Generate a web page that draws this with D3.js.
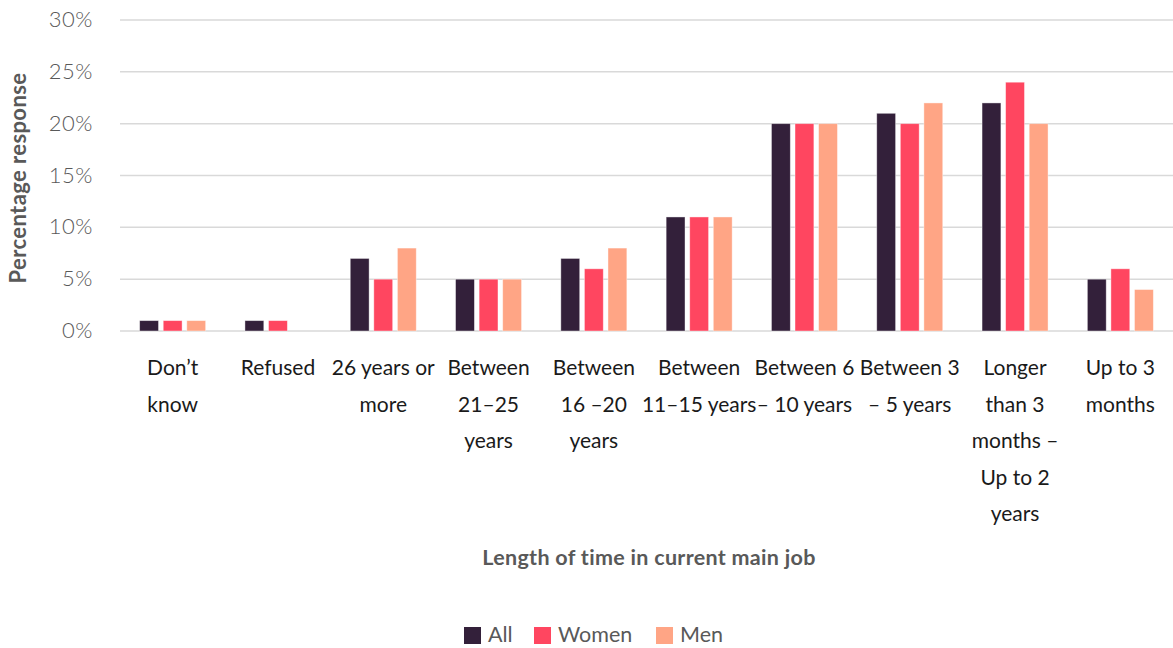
<!DOCTYPE html>
<html><head><meta charset="utf-8">
<script src="https://cdn.jsdelivr.net/npm/d3@7"></script>
<style>
html,body{margin:0;padding:0;background:#fff;}
svg{display:block;font-family:Lato, "Noto Sans", sans-serif;}
</style></head>
<body>
<svg id="chart" width="1173" height="648"></svg>
<script>
const categories = [
  ["Don\u2019t","know"],
  ["Refused"],
  ["26 years or","more"],
  ["Between","21\u201325","years"],
  ["Between","16 \u201320","years"],
  ["Between","11\u201315 years"],
  ["Between 6","\u2013 10 years"],
  ["Between 3","\u2013 5 years"],
  ["Longer","than 3","months \u2013","Up to 2","years"],
  ["Up to 3","months"]
];
const seriesNames = ["All","Women","Men"];
const allValues   = [1,1,7,5,7,11,20,21,22,5];
const womenValues = [1,1,5,5,6,11,20,20,24,6];
const menValues   = [1,0,8,5,8,11,20,22,20,4];
const yTicks = [0,5,10,15,20,25,30];
const colors = ["#33203a","#ff4660","#ffa585"];

const values = [allValues, womenValues, menValues];
const svg = d3.select("#chart");
const m = {left:120, right:0};
const W = 1173;
const x0 = d3.scaleBand().domain(d3.range(categories.length)).range([m.left, W - m.right]).paddingInner(0).paddingOuter(0);
const x1 = d3.scaleBand().domain(seriesNames).range([0, 66]).paddingInner(0.2).paddingOuter(0);
const y = d3.scaleLinear().domain([0,30]).range([331, 20]);

// grid
svg.append("g").selectAll("line").data(yTicks).join("line")
  .attr("x1", m.left).attr("x2", W)
  .attr("y1", d=>y(d)).attr("y2", d=>y(d))
  .attr("stroke","#d9d9d9").attr("stroke-width",1.5);

// y tick labels
const yAxis = d3.axisLeft(y).tickValues(yTicks).tickFormat(d=>d+"%").tickSize(0).tickPadding(0);
const ya = svg.append("g").attr("transform","translate(93,0)").call(yAxis);
ya.select(".domain").remove();
ya.selectAll("text").attr("font-size",22).attr("font-weight",300).attr("fill","#595959")
  .attr("font-family","Lato, sans-serif").attr("dy","0.3em").attr("letter-spacing","0.5px");

// bars
const groups = svg.append("g").selectAll("g").data(categories.map((c,i)=>i)).join("g")
  .attr("transform", i => `translate(${x0(i) + x0.bandwidth()/2 - 33},0)`);
groups.selectAll("rect").data(i => seriesNames.map((s,k)=>({s, k, v: values[k][i]})).filter(d=>d.v>0))
  .join("rect")
  .attr("x", d=>x1(d.s)).attr("width", x1.bandwidth())
  .attr("y", d=>y(d.v)).attr("height", d=>y(0)-y(d.v))
  .attr("fill", d=>colors[d.k])
  .attr("stroke", "#fff").attr("stroke-opacity",0.5).attr("stroke-width",0.8);

// category labels
const lab = svg.append("g").selectAll("text").data(categories).join("text")
  .attr("x", (d,i)=>x0(i)+x0.bandwidth()/2)
  .attr("y", 375)
  .attr("text-anchor","middle")
  .attr("font-size",21).attr("fill","#1a1a1a");
lab.selectAll("tspan").data(d=>d).join("tspan")
  .attr("x", function(){ return this.parentNode.getAttribute("x"); })
  .attr("dy", (d,j)=> j===0 ? 0 : 36.6)
  .text(d=>d);

// x axis title
svg.append("text").attr("x", 649).attr("y", 565).attr("text-anchor","middle")
  .attr("font-size",21.5).attr("font-weight","bold").attr("fill","#595959")
  .attr("letter-spacing","0.3px")
  .text("Length of time in current main job");

// y axis title
svg.append("text").attr("transform","translate(26,178) rotate(-90)").attr("text-anchor","middle")
  .attr("font-size",22).attr("font-weight","bold").attr("fill","#595959")
  .attr("letter-spacing","0.4px")
  .text("Percentage response");

// legend
const legX = [464, 534, 656];
const leg = svg.append("g").selectAll("g").data(seriesNames).join("g")
  .attr("transform",(d,i)=>`translate(${legX[i]},627)`);
leg.append("rect").attr("width",17).attr("height",17).attr("fill",(d,i)=>colors[i]);
leg.append("text").attr("x",24).attr("y",15).attr("font-size",21.5).attr("fill","#595959").text(d=>d);
</script>
</body></html>
